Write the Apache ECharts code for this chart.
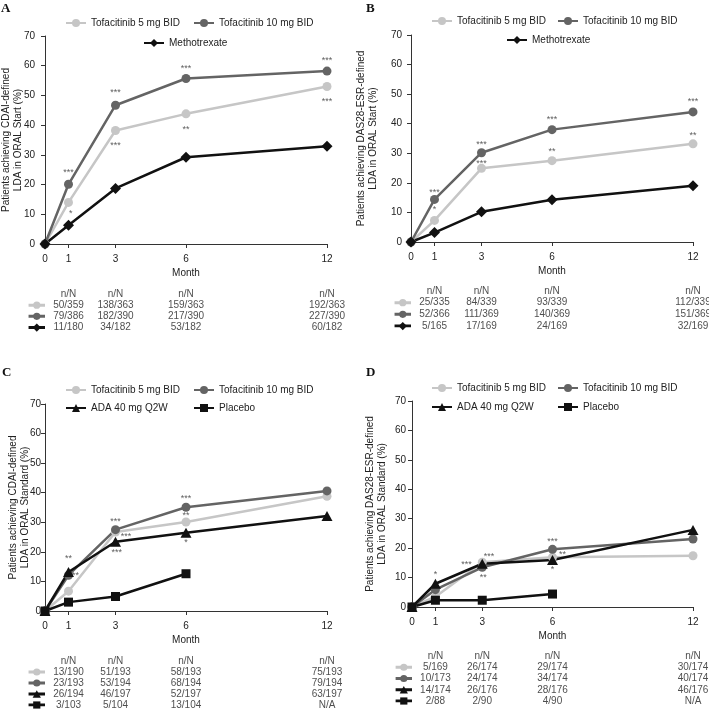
<!DOCTYPE html>
<html><head><meta charset="utf-8">
<script src="https://cdn.jsdelivr.net/npm/echarts@6/dist/echarts.min.js"></script>
<style>html,body{margin:0;padding:0;background:#fff}#c{width:709px;height:710px}</style>
</head><body><div id="c"></div>
<script>
// ---------- data ----------
const months = [0, 1, 3, 6, 12];
const tableMonths = [1, 3, 6, 12];
const T5 = 'Tofacitinib 5 mg BID';
const T10 = 'Tofacitinib 10 mg BID';
const MTX = 'Methotrexate';
const ADA = 'ADA 40 mg Q2W';
const PBO = 'Placebo';
const headerText = 'n/N';

// Panel A – CDAI, ORAL Start
const A_t5 = [0, 14.0, 38.2, 43.8, 53.0];
const A_t10 = [0, 20.1, 46.7, 55.7, 58.2];
const A_mtx = [0, 6.3, 18.7, 29.2, 32.9];
const A_nN_t5 = ['50/359', '138/363', '159/363', '192/363'];
const A_nN_t10 = ['79/386', '182/390', '217/390', '227/390'];
const A_nN_mtx = ['11/180', '34/182', '53/182', '60/182'];
const A_sig = [[1, 24.1, '***'], [1.1, 10.3, '*'], [3, 51.0, '***'], [3, 33.3, '***'], [6, 59.1, '***'], [6, 38.4, '**'], [12, 61.9, '***'], [12, 47.9, '***']];

// Panel B – DAS28-ESR, ORAL Start
const B_t5 = [0, 7.3, 24.9, 27.5, 33.2];
const B_t10 = [0, 14.4, 30.2, 38.0, 44.0];
const B_mtx = [0, 3.2, 10.2, 14.3, 19.0];
const B_nN_t5 = ['25/335', '84/339', '93/339', '112/339'];
const B_nN_t10 = ['52/366', '111/369', '140/369', '151/369'];
const B_nN_mtx = ['5/165', '17/169', '24/169', '32/169'];
const B_sig = [[1, 16.8, '***'], [1, 10.9, '*'], [3, 33.0, '***'], [3, 26.6, '***'], [6, 41.3, '***'], [6, 30.6, '**'], [12, 47.5, '***'], [12, 36.0, '**']];

// Panel C – CDAI, ORAL Standard
const C_t5 = [0, 6.7, 26.7, 30.1, 38.8];
const C_t10 = [0, 12.1, 27.5, 35.1, 40.6];
const C_ada = [0, 13.2, 23.4, 26.5, 32.1];
const C_pbo = [0, 3.0, 4.9, 12.6, null];
const C_nN_t5 = ['13/190', '51/193', '58/193', '75/193'];
const C_nN_t10 = ['23/193', '53/194', '68/194', '79/194'];
const C_nN_ada = ['26/194', '46/197', '52/197', '63/197'];
const C_nN_pbo = ['3/103', '5/104', '13/104', 'N/A'];
const C_sig = [[1.0, 17.7, '**'], [1.3, 12.0, '**'], [3, 30.1, '***'], [3.45, 25.1, '***'], [3.05, 19.8, '***'], [6, 38.0, '***'], [6, 32.2, '**'], [6, 23.0, '*']];

// Panel D – DAS28-ESR, ORAL Standard
const D_t5 = [0, 3.5, 15.2, 16.9, 17.4];
const D_t10 = [0, 5.9, 13.5, 19.6, 23.1];
const D_ada = [0, 7.9, 14.7, 16.0, 26.2];
const D_pbo = [0, 2.3, 2.3, 4.4, null];
const D_nN_t5 = ['5/169', '26/174', '29/174', '30/174'];
const D_nN_t10 = ['10/173', '24/174', '34/174', '40/174'];
const D_nN_ada = ['14/174', '26/176', '28/176', '46/176'];
const D_nN_pbo = ['2/88', '2/90', '4/90', 'N/A'];
const D_sig = [[1, 11.0, '*'], [2.33, 14.3, '***'], [3.29, 17.1, '***'], [3.04, 10.0, '**'], [6, 22.3, '***'], [6.43, 17.7, '**'], [6, 12.8, '*']];

// ---------- styles / layout ----------
const FONT = 'Liberation Sans, Arial, sans-serif';
const TXT = '#222';
const styles = {};
styles[T5] = { color: '#c6c6c6', symbol: 'circle', size: 9 };
styles[T10] = { color: '#646464', symbol: 'circle', size: 9 };
styles[MTX] = { color: '#111', symbol: 'diamond', size: [11, 11] };
styles[ADA] = { color: '#111', symbol: 'triangle', size: [11, 10] };
styles[PBO] = { color: '#111', symbol: 'rect', size: 9 };

const ICON_MIN = -0.7; // table icon column, in months, left of the y axis

const panels = [
  { letter: 'A', lx: 1, ly: 2, grid: { left: 45, top: 36, width: 282, height: 208 }, table: { top: 294, height: 33.5 },
    labelMargin: 10, nameGap: 21,
    yName: 'Patients achieving CDAI-defined\nLDA in ORAL Start (%)',
    lines: [[T5, A_t5, A_nN_t5], [T10, A_t10, A_nN_t10], [MTX, A_mtx, A_nN_mtx]], sig: A_sig,
    legends: [[T5, 65, 18], [T10, 193, 18], [MTX, 143, 38]] },
  { letter: 'B', lx: 366, ly: 2, grid: { left: 411, top: 35, width: 282, height: 207 }, table: { top: 291, height: 35 },
    labelMargin: 9, nameGap: 32,
    yName: 'Patients achieving DAS28-ESR-defined\nLDA in ORAL Start (%)',
    lines: [[T5, B_t5, B_nN_t5], [T10, B_t10, B_nN_t10], [MTX, B_mtx, B_nN_mtx]], sig: B_sig,
    legends: [[T5, 431, 16], [T10, 557, 16], [MTX, 506, 35]] },
  { letter: 'C', lx: 2, ly: 366, grid: { left: 45, top: 404, width: 282, height: 207 }, table: { top: 661, height: 44 },
    labelMargin: 4, nameGap: 14,
    yName: 'Patients achieving CDAI-defined\nLDA in ORAL Standard (%)',
    lines: [[T5, C_t5, C_nN_t5], [T10, C_t10, C_nN_t10], [ADA, C_ada, C_nN_ada], [PBO, C_pbo, C_nN_pbo]], sig: C_sig,
    legends: [[T5, 65, 385], [T10, 193, 385], [ADA, 65, 403], [PBO, 193, 403]] },
  { letter: 'D', lx: 366, ly: 366, grid: { left: 412, top: 401, width: 281, height: 206 }, table: { top: 656, height: 45 },
    labelMargin: 6, nameGap: 24,
    yName: 'Patients achieving DAS28-ESR-defined\nLDA in ORAL Standard (%)',
    lines: [[T5, D_t5, D_nN_t5], [T10, D_t10, D_nN_t10], [ADA, D_ada, D_nN_ada], [PBO, D_pbo, D_nN_pbo]], sig: D_sig,
    legends: [[T5, 431, 383], [T10, 557, 383], [ADA, 431, 402], [PBO, 557, 402]] }
];

const option = { animation: false, backgroundColor: '#fff', textStyle: { fontFamily: FONT },
  grid: [], xAxis: [], yAxis: [], series: [], legend: [], graphic: [] };

panels.forEach((p) => {
  const gMain = option.grid.length;
  option.grid.push(Object.assign({ containLabel: false, outerBoundsMode: 'none' }, p.grid));
  // table grid shares the month scale, extended left to hold the row icons
  const pxPerMonth = p.grid.width / 12;
  const extra = -ICON_MIN * pxPerMonth;
  option.grid.push({ outerBoundsMode: 'none', left: p.grid.left - extra, width: p.grid.width + extra, top: p.table.top, height: p.table.height });
  const gTab = gMain + 1;
  option.xAxis.push({ type: 'value', gridIndex: gMain, min: 0, max: 12,
    name: 'Month', nameLocation: 'middle', nameGap: 24, nameMoveOverlap: false,
    nameTextStyle: { fontSize: 10, color: TXT, fontFamily: FONT },
    axisLine: { lineStyle: { color: '#333', width: 1 } },
    axisTick: { customValues: months, length: 4, lineStyle: { color: '#333' } },
    axisLabel: { customValues: months, fontSize: 10, color: TXT, margin: 10, fontFamily: FONT },
    splitLine: { show: false } });
  option.yAxis.push({ type: 'value', gridIndex: gMain, min: 0, max: 70, interval: 10,
    name: p.yName, nameLocation: 'middle', nameGap: p.nameGap, nameMoveOverlap: false,
    nameTextStyle: { fontSize: 10, color: TXT, lineHeight: 12, fontFamily: FONT },
    axisLine: { show: true, lineStyle: { color: '#333', width: 1 } },
    axisTick: { show: true, length: 4, lineStyle: { color: '#333' } },
    axisLabel: { fontSize: 10, color: TXT, margin: p.labelMargin, fontFamily: FONT },
    splitLine: { show: false } });
  const nRows = p.lines.length;
  option.xAxis.push({ type: 'value', gridIndex: gTab, min: ICON_MIN, max: 12, show: false });
  option.yAxis.push({ type: 'value', gridIndex: gTab, min: 0, max: nRows, inverse: true, show: false });

  // data lines
  p.lines.forEach(([name, vals]) => {
    const s = styles[name];
    option.series.push({ type: 'line', name, xAxisIndex: gMain, yAxisIndex: gMain, z: 3,
      data: months.map((m, i) => [m, vals[i]]).filter(d => d[1] !== null),
      symbol: s.symbol, symbolSize: s.size, color: s.color,
      lineStyle: { color: s.color, width: 2.5 }, itemStyle: { color: s.color } });
  });
  // significance marks
  option.series.push({ type: 'scatter', xAxisIndex: gMain, yAxisIndex: gMain, z: 1, silent: true,
    symbolSize: 1, itemStyle: { color: 'rgba(0,0,0,0)' },
    data: p.sig.map(d => ({ value: [d[0], d[1]], name: d[2] })),
    label: { show: true, position: 'inside', formatter: '{b}', fontSize: 9, color: '#333', fontFamily: FONT } });
  // table header + rows
  const tab = tableMonths.map(m => ({ value: [m, 0], name: headerText }));
  p.lines.forEach(([name, vals, nN], r) => {
    tableMonths.forEach((m, i) => tab.push({ value: [m, r + 1], name: nN[i] }));
    const s = styles[name];
    const sz = Array.isArray(s.size) ? s.size.map(v => v * 0.75) : s.size * 0.8;
    option.series.push({ type: 'line', name: name + ' ', xAxisIndex: gTab, yAxisIndex: gTab, silent: true,
      data: [{ value: [ICON_MIN, r + 1], symbol: 'none' }, { value: [ICON_MIN / 2, r + 1] }, { value: [0, r + 1], symbol: 'none' }],
      symbol: s.symbol, symbolSize: sz, lineStyle: { color: s.color, width: 3 }, itemStyle: { color: s.color } });
  });
  option.series.push({ type: 'scatter', xAxisIndex: gTab, yAxisIndex: gTab, silent: true, clip: false,
    symbolSize: 1, itemStyle: { color: 'rgba(0,0,0,0)' }, data: tab,
    label: { show: true, position: 'inside', formatter: '{b}', fontSize: 10, color: TXT, fontFamily: FONT } });

  // legends
  p.legends.forEach(([name, left, top]) => {
    option.legend.push({ data: [name], left, top, padding: 0, itemWidth: 20, itemHeight: 10, selectedMode: false,
      textStyle: { fontSize: 10, color: TXT, fontFamily: FONT } });
  });
  // panel letter
  option.graphic.push({ type: 'text', left: p.lx, top: p.ly,
    style: { text: p.letter, font: 'bold 13px "Liberation Serif", "Times New Roman", serif', fill: '#111' } });
});

const chart = echarts.init(document.getElementById('c'), null, { renderer: 'canvas' });
chart.setOption(option);
</script></body></html>
